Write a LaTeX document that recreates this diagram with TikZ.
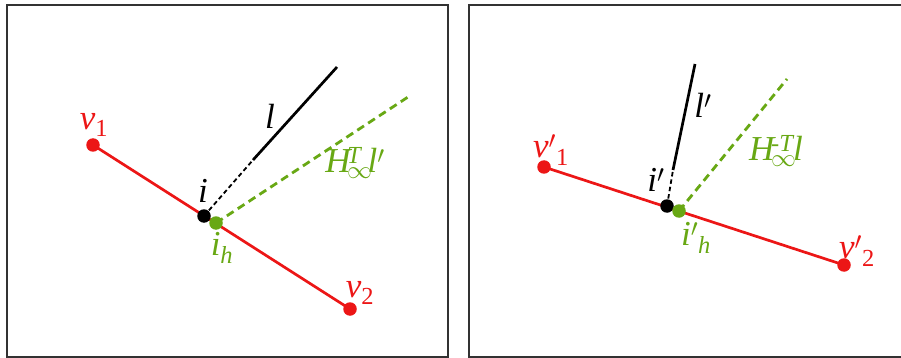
\documentclass[tikz,border=0pt]{standalone}
\usepackage{amsmath}
\usepackage{fontspec}
\setmainfont{Liberation Serif}
\definecolor{vred}{RGB}{236,22,22}
\definecolor{vgreen}{RGB}{104,168,20}
\definecolor{framegray}{RGB}{50,50,50}
\tikzset{
  pt/.style={circle,fill=#1,inner sep=0pt,minimum size=13.5pt},
  lbl/.style={inner sep=0pt,font=\fontsize{35}{40}\selectfont},
  redline/.style={vred,line width=2.7pt},
  blackline/.style={black,line width=2.7pt},
  blackdash/.style={black,line width=1.8pt,dash pattern=on 4.5pt off 3pt},
  greendash/.style={vgreen,line width=2.8pt,dash pattern=on 8pt off 5pt},
  framebox/.style={framegray,line width=1.4pt}
}
\begin{document}
\begin{tikzpicture}[x=1pt,y=-1pt]
\useasboundingbox (0,0) rectangle (901,358);
% frames
\draw[framebox] (7,5) rectangle (448,357);
\draw[framebox] (910,5) -- (469,5) -- (469,357) -- (910,357);

% ---------- left panel ----------
\coordinate (ltop) at (337,67);
\coordinate (lmid) at (253,160);
\coordinate (gend) at (408,97);
\node[pt=vred] (v1) at (93,145) {};
\node[pt=vred] (v2) at (350,309) {};
\draw[redline] (v1.center) -- (v2.center);
\draw[blackdash] (204,216) -- (lmid);
\draw[blackline] (lmid) -- (ltop);
\draw[greendash] (216,223) -- (gend);
\node[pt=black] (i) at (204,216) {};
\node[pt=vgreen] (ih) at (216,223) {};

\node[lbl,vred] (lv1) at (94,125) {\textit{v}$_{\text{1}}$};
\node[lbl] (li) at (203,191) {\textit{i}};
\node[lbl] (ll) at (270,116) {\textit{l}};
\node[lbl,vgreen] (lH) at (355,163) {\textit{H}\kern-0.14em$^{\textit{T}}_{\infty}$\kern-0.14em\textit{l}$'$};
\node[lbl,vgreen] (lih) at (222,248) {\textit{i}$_{\textit{h}}$};
\node[lbl,vred] (lv2) at (360,293) {\textit{v}$_{\text{2}}$};

% ---------- right panel ----------
\coordinate (rtop) at (695,64);
\coordinate (rmid) at (673,170);
\coordinate (rgend) at (787,79);
\node[pt=vred] (w1) at (544,167) {};
\node[pt=vred] (w2) at (844,265) {};
\draw[redline] (w1.center) -- (w2.center);
\draw[blackdash] (667,206) -- (rmid);
\draw[blackline] (rmid) -- (rtop);
\draw[greendash] (679,211) -- (rgend);
\node[pt=black] (ip) at (667,206) {};
\node[pt=vgreen] (iph) at (679,211) {};

\node[lbl,vred] (lw1) at (551,150) {\textit{v}$'{}_{\text{1}}$};
\node[lbl] (llp) at (703,105) {\textit{l}$'$};
\node[lbl,vgreen] (lHp) at (776,151) {\textit{H}\kern-0.14em$^{\text{-}\textit{T}}_{\infty}$\kern-0.1em\textit{l}};
\node[lbl] (lip) at (656,180) {\textit{i}$'$};
\node[lbl,vgreen] (liph) at (696,238) {\textit{i}$'{}_{\textit{h}}$};
\node[lbl,vred] (lw2) at (857,251) {\textit{v}$'{}_{\text{2}}$};
\end{tikzpicture}
\end{document}
